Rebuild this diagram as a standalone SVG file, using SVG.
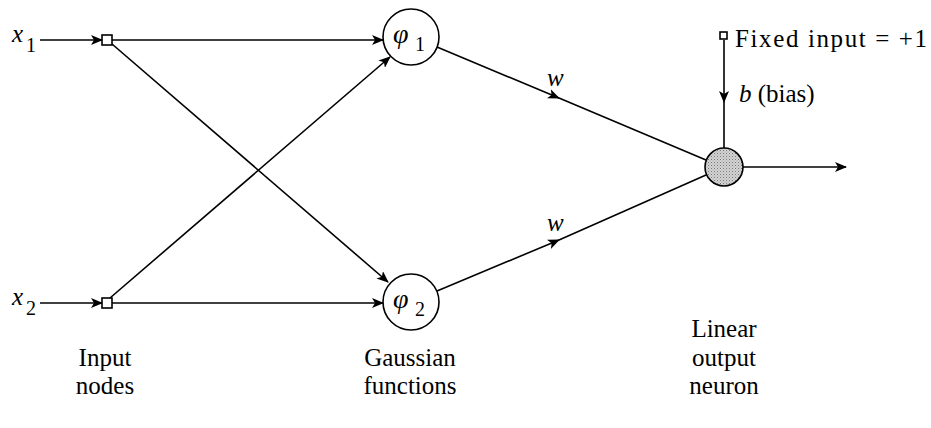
<svg xmlns="http://www.w3.org/2000/svg" width="931" height="428" viewBox="0 0 931 428">
<style>
.ln{stroke:#000;stroke-width:1.6;fill:none}
.nd{stroke:#000;stroke-width:1.6;fill:#fff}
.t{font-family:"Liberation Serif","Times New Roman",serif;font-size:25px;fill:#000}
.i{font-style:italic}
.s{font-size:20px}
.c{text-anchor:middle}
.ph{font-size:28px}
</style>
<defs>
<marker id="ah" viewBox="0 0 12 10" refX="11" refY="5" markerWidth="12" markerHeight="10" markerUnits="userSpaceOnUse" orient="auto">
<path d="M0,0 L12,5 L0,10 L3,5 z" fill="#000"/>
</marker>
<pattern id="dots" width="3" height="3" patternUnits="userSpaceOnUse">
<rect width="3" height="3" fill="#d4d4d4"/>
<rect x="0" y="0" width="1" height="1" fill="#777"/>
<rect x="1.5" y="1.5" width="1" height="1" fill="#999"/>
</pattern>
</defs>
<g id="connectors">
<line class="ln" x1="40" y1="40" x2="102" y2="40" marker-end="url(#ah)"/>
<line class="ln" x1="40" y1="303" x2="102" y2="303" marker-end="url(#ah)"/>
<line class="ln" x1="112" y1="40" x2="383" y2="40" marker-end="url(#ah)"/>
<line class="ln" x1="112" y1="303" x2="383" y2="303" marker-end="url(#ah)"/>
<line class="ln" x1="112" y1="44" x2="388" y2="282" marker-end="url(#ah)"/>
<line class="ln" x1="110" y1="298" x2="390" y2="57" marker-end="url(#ah)"/>
<path class="ln" d="M437,47 L559,98 L706,160" marker-mid="url(#ah)"/>
<path class="ln" d="M437,291 L559,240 L706,175" marker-mid="url(#ah)"/>
<path class="ln" d="M724,40 L724,102 L724,148" marker-mid="url(#ah)"/>
<line class="ln" x1="743" y1="167" x2="846" y2="167" marker-end="url(#ah)"/>
</g>
<g id="x1"><text class="t i" x="12" y="42">x</text><text class="t s" x="26" y="52">1</text></g>
<g id="x2"><text class="t i" x="12" y="305">x</text><text class="t s" x="26" y="315">2</text></g>
<g id="in1"><rect class="nd" x="102" y="35" width="10" height="10"/></g>
<g id="in2"><rect class="nd" x="102" y="298" width="10" height="10"/></g>
<g id="phi1"><circle class="nd" cx="411" cy="37" r="28"/><text class="t i ph" x="393" y="43">φ</text><text class="t s" x="415" y="51">1</text></g>
<g id="phi2"><circle class="nd" cx="411" cy="302" r="28"/><text class="t i ph" x="393" y="308">φ</text><text class="t s" x="415" y="316">2</text></g>
<g id="bias"><rect class="nd" x="720" y="32" width="7" height="7"/><text class="t" x="735" y="47" font-size="27" textLength="192" lengthAdjust="spacing">Fixed input = +1</text><text class="t" x="739" y="102"><tspan class="i">b</tspan> (bias)</text></g>
<g id="out"><circle cx="724" cy="167" r="19" fill="url(#dots)" stroke="#000" stroke-width="1.6"/></g>
<g id="labels">
<text class="t i" x="547" y="86">w</text>
<text class="t i" x="547" y="231">w</text>
<text class="t c" x="105" y="366">Input</text>
<text class="t c" x="105" y="394">nodes</text>
<text class="t c" x="410" y="366">Gaussian</text>
<text class="t c" x="410" y="394">functions</text>
<text class="t c" x="724" y="337">Linear</text>
<text class="t c" x="724" y="366">output</text>
<text class="t c" x="724" y="394">neuron</text>
</g>
</svg>
